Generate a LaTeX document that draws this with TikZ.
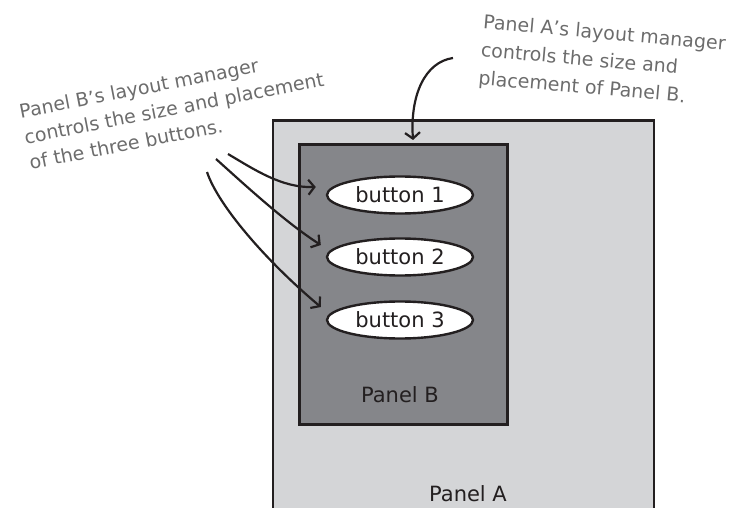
\documentclass[tikz,border=0pt]{standalone}
\usepackage{fontspec}
\setmainfont{DejaVu Sans}
\usetikzlibrary{arrows.meta,shapes.geometric}
\definecolor{panelA}{HTML}{D4D5D7}
\definecolor{panelB}{HTML}{85868A}
\definecolor{ink}{HTML}{231F20}
\definecolor{note}{HTML}{6C6C6C}
\tikzset{
  panel/.style={draw=ink, line width=2.6pt},
  btn/.style={ellipse, draw=ink, fill=white, line width=2.4pt, minimum width=146pt, minimum height=37pt, inner sep=0pt, font=\fontsize{21}{24}\selectfont, text=ink},
  plabel/.style={font=\fontsize{21}{24}\selectfont, text=ink},
  notetext/.style={font=\fontsize{19}{26}\selectfont, text=note, align=left, inner sep=1pt},
  hand/.style={draw=ink, line width=2.2pt, -{Straight Barb[length=6pt,width=15pt,line width=2.2pt]}}
}
\begin{document}
\begin{tikzpicture}[x=1pt,y=-1pt]
\useasboundingbox (0,0) rectangle (750,508);
\clip (0,0) rectangle (750,508);
% Panel A
\node[panel, fill=panelA, minimum width=381pt, minimum height=420pt, inner sep=0pt, anchor=north west] (A) at (271.5,119) {};
\node[plabel] (Alab) at (468,494) {Panel A};
% Panel B
\node[panel, fill=panelB, minimum width=208pt, minimum height=280pt, inner sep=0pt, anchor=north west] (B) at (298,143) {};
\node[plabel] (Blab) at (400,395) {Panel B};
% buttons
\node[btn] (b1) at (400,195) {button 1};
\node[btn] (b2) at (400,257) {button 2};
\node[btn] (b3) at (400,320) {button 3};
% annotations
\node[notetext, rotate=11] (nB) at (174,108) {Panel B’s layout manager\\controls the size and placement\\of the three buttons.};
\node[notetext, rotate=-5, font=\fontsize{19}{28}\selectfont] (nA) at (602,62) {Panel A’s layout manager\\controls the size and\\placement of Panel B.};
% arrow coordinates
\coordinate (sA) at (453,58);
\coordinate (s1) at (228,154);
\coordinate (s2) at (216,159);
\coordinate (s3) at (207,172);
\coordinate (e1) at ([shift={(-10,-8)}]b1.west);
\coordinate (e2) at ([shift={(-5,-12)}]b2.west);
\coordinate (e3) at ([shift={(-5,-13)}]b3.west);
\draw[hand] (sA) .. controls (425,62) and (410,95) .. (413,140);
\draw[hand] (s1) .. controls (255,170) and (282,188) .. (e1);
\draw[hand] (s2) .. controls (245,185) and (285,222) .. (e2);
\draw[hand] (s3) .. controls (218,205) and (265,260) .. (e3);
\end{tikzpicture}
\end{document}
